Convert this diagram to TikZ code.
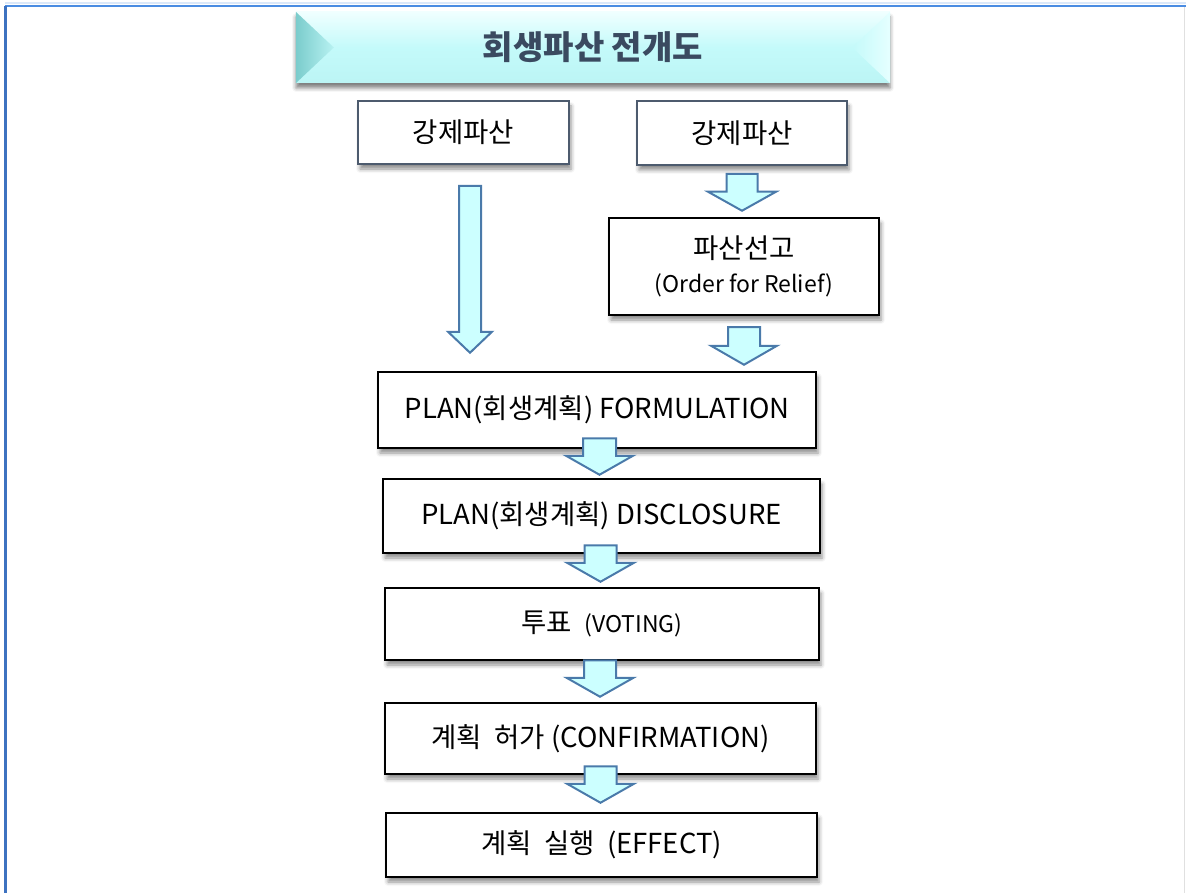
\documentclass[tikz,border=0pt]{standalone}
\usepackage{fontspec}
\setmainfont{Noto Sans CJK KR}
\usetikzlibrary{calc,shadows.blur}
\definecolor{framebl}{HTML}{3D72C0}
\definecolor{frametop}{HTML}{4A8CE2}
\definecolor{arrowbl}{HTML}{4A7AAA}
\definecolor{arrowfill}{HTML}{CCFFFF}
\definecolor{boxgray}{HTML}{4D5B6E}
\definecolor{titlec}{HTML}{3A4A60}
\newcommand\blockarrow[5]{%
  \draw[barrow] let \p1=(#1), \p2=(#2) in
    (\x1-#3,\y1) -- (\x1+#3,\y1) -- (\x1+#3,\y2+#5) -- (\x1+#4,\y2+#5)
    -- (\x1,\y2) -- (\x1-#4,\y2+#5) -- (\x1-#3,\y2+#5) -- cycle;}
\newcommand\smalltxt{\fontsize{23pt}{28pt}\selectfont}
\begin{document}
\begin{tikzpicture}[x=1pt,y=-1pt,
  boxbase/.style={fill=white, inner sep=0pt, align=center,
    font=\fontsize{27.5pt}{34pt}\selectfont,
    blur shadow={shadow xshift=2pt, shadow yshift=-5pt, shadow blur radius=4pt, shadow opacity=45}},
  boxg/.style={boxbase, draw=boxgray, line width=2pt},
  boxk/.style={boxbase, draw=black, line width=2.5pt},
  barrow/.style={draw=arrowbl, fill=arrowfill, line width=2pt, line join=miter}
]
\useasboundingbox (0,0) rectangle (1186,893);
% frame
\draw[white!80!frametop, line width=2pt] (5,3.5) -- (1186,3.5);
\draw[frametop, line width=2.5pt] (5,6) -- (1186,6);
\draw[framebl, line width=3pt] (5,893) -- (5,6);
\draw[black!12, line width=1.5pt] (1184.5,7) -- (1184.5,893);
% title banner
\node[minimum width=594pt, minimum height=71pt, inner sep=0pt,
  top color=white!70!arrowfill, bottom color=arrowfill!92!teal, middle color=arrowfill!96!teal,
  blur shadow={shadow xshift=0pt, shadow yshift=-5pt, shadow blur radius=4pt, shadow opacity=50}]
  (T) at (593,47.5) {};
\shade[left color=teal!40!arrowfill, right color=arrowfill!90!teal]
  (T.north west) -- ($(T.west)+(38,0)$) -- (T.south west) -- cycle;
\shade[right color=white!50!arrowfill, left color=arrowfill!96!teal]
  (T.north east) -- ($(T.east)+(-38,0)$) -- (T.south east) -- cycle;
\node[text=titlec, font=\fontsize{33pt}{40pt}\selectfont\bfseries] (Tt) at (T) {회생파산 전개도};
% boxes
\node[boxg, minimum width=211pt, minimum height=63pt] (A) at (463.5,132.5) {강제파산};
\node[boxg, minimum width=210pt, minimum height=64pt] (B) at (742,133) {강제파산};
\node[boxk, minimum width=270pt, minimum height=97pt] (C) at (744,266.5)
  {파산선고\\[0pt]{\smalltxt (Order for Relief)}};
\node[boxk, minimum width=438pt, minimum height=76pt] (D) at (597,410) {PLAN(회생계획) FORMULATION};
\node[boxk, minimum width=437pt, minimum height=74pt] (E) at (601.5,516) {PLAN(회생계획) DISCLOSURE};
\node[boxk, minimum width=434pt, minimum height=72pt] (F) at (602,624) {투표 \ {\smalltxt (VOTING)}};
\node[boxk, minimum width=431pt, minimum height=71pt] (G) at (600.5,738.5) {계획 \ 허가 (CONFIRMATION)};
\node[boxk, minimum width=431pt, minimum height=64pt] (H) at (601.5,845) {계획 \ 실행 \ (EFFECT)};
% block arrows
\blockarrow{$(A.south)+(6.5,21)$}{$(D.north)+(0,-18)$}{11pt}{22pt}{21pt}
\blockarrow{$(B.south)+(0,8)$}{$(C.north)+(0,-6)$}{15.5pt}{34pt}{19pt}
\blockarrow{$(C.south)+(0,11)$}{$(D.north)+(0,-6)$}{16pt}{33pt}{19pt}
\blockarrow{$(D.south)+(2.5,-11)$}{$(E.north)+(0,-3)$}{16.5pt}{33.5pt}{19pt}
\blockarrow{$(E.south)+(-1,-9)$}{$(F.north)+(0,-5)$}{16pt}{33.5pt}{19pt}
\blockarrow{$(F.south)+(-2,-1)$}{$(G.north)+(0,-5)$}{16pt}{33.5pt}{19pt}
\blockarrow{$(G.south)+(0,-9)$}{$(H.north)+(0,-9)$}{16pt}{33.5pt}{19pt}
\end{tikzpicture}
\end{document}
